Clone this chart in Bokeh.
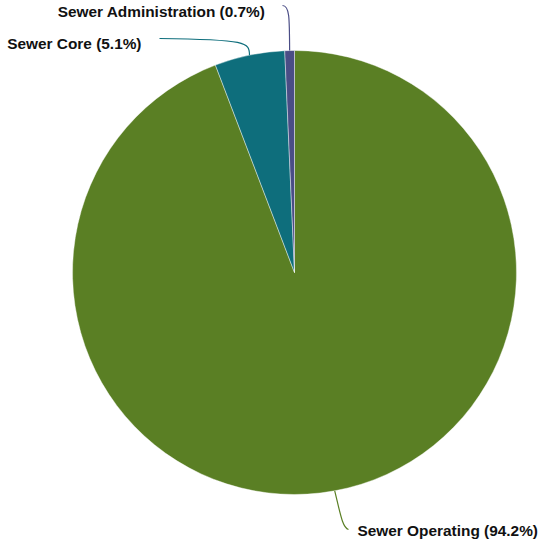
import numpy as np
from bokeh.plotting import figure
from bokeh.models import Range1d
from bokeh.core.properties import value
from bokeh.embed import file_html
from bokeh.resources import INLINE

categories = ["Sewer Operating", "Sewer Core", "Sewer Administration"]
shares = [94.2, 5.1, 0.7]
colors = ["#5a7f24", "#0e6e7c", "#4a4d86"]

W, H = 540, 542
p = figure(width=W, height=H, output_backend="svg", toolbar_location=None,
           x_range=Range1d(0, W), y_range=Range1d(0, H), min_border=0)
p.axis.visible = False
p.grid.visible = False
p.outline_line_color = None

def X(px):
    return px - 8

def Y(py):
    return H + 8 - py

cx, cy, r = 302, 280, 222
vals = np.array(shares, dtype=float)
frac = vals / vals.sum()
cum = np.concatenate([[0], np.cumsum(frac)])
starts = np.pi / 2 - 2 * np.pi * cum[:-1]
ends = np.pi / 2 - 2 * np.pi * cum[1:]

p.wedge(x=X(cx), y=Y(cy), radius=r, start_angle=list(starts), end_angle=list(ends),
        direction="clock", fill_color=colors, line_color="#ffffff", line_width=0.6,
        line_alpha=0.7)

mids = (starts + ends) / 2
label_pos = {
    "Sewer Operating": dict(c1=(348, 522), c2=(350, 535), end=(356, 537), text=(365, 538), align="left"),
    "Sewer Core": dict(c1=(257, 50), c2=(255, 47), end=(167, 46), text=(149, 51), align="right"),
    "Sewer Administration": dict(c1=(297, 25), c2=(297, 13), end=(290, 13), text=(273, 19), align="right"),
}

for i, cat in enumerate(categories):
    sx = cx + r * np.cos(mids[i])
    sy = cy - r * np.sin(mids[i])
    lp = label_pos[cat]
    p.bezier(x0=X(sx), y0=Y(sy), x1=X(lp["end"][0]), y1=Y(lp["end"][1]),
             cx0=X(lp["c1"][0]), cy0=Y(lp["c1"][1]), cx1=X(lp["c2"][0]), cy1=Y(lp["c2"][1]),
             line_color=colors[i], line_width=1.2)
    label = f"{cat} ({shares[i]:.1f}%)"
    p.text(x=[X(lp["text"][0])], y=[Y(lp["text"][1])], text=[label],
           text_align=lp["align"], text_baseline="middle",
           text_font=value("Liberation Sans"), text_font_style="bold",
           text_font_size="15.4px", text_color="#111111")

open("out.html", "w").write(file_html(p, INLINE))
